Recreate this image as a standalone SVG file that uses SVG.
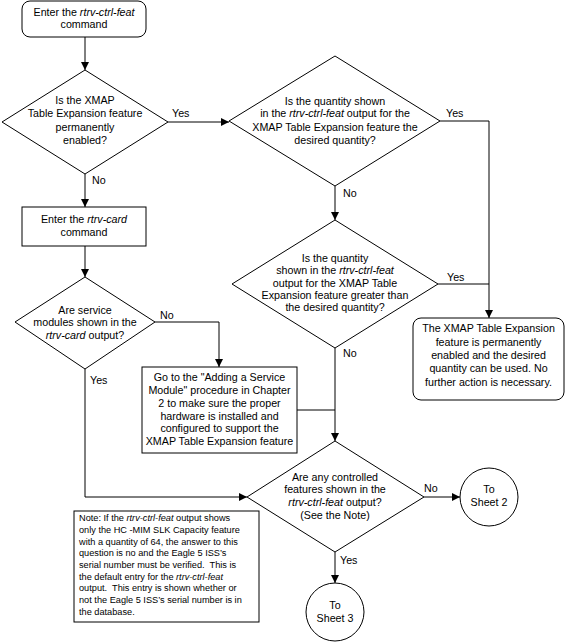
<svg xmlns="http://www.w3.org/2000/svg" width="565" height="642" viewBox="0 0 565 642">
<style>
.s{fill:#fff;stroke:#000;stroke-width:1}
.t{font-family:"Liberation Sans",Arial,sans-serif;font-size:10.7px;fill:#000;text-anchor:middle}
.l{font-family:"Liberation Sans",Arial,sans-serif;font-size:10.7px;fill:#000}
.n{font-family:"Liberation Sans",Arial,sans-serif;font-size:9.2px;fill:#000}
.i{font-style:italic}
.c{fill:none;stroke:#000;stroke-width:1}
</style>
<defs>
<marker id="a" markerWidth="8" markerHeight="8" refX="8" refY="4" orient="auto" markerUnits="userSpaceOnUse">
<path d="M0,0 L8,4 L0,8 Z" fill="#000"/>
</marker>
</defs>
<rect width="565" height="642" fill="#fff"/>
<g id="connectors">
<path class="c" d="M85,37 V70" marker-end="url(#a)"/>
<path class="c" d="M168,122 H229" marker-end="url(#a)"/>
<path class="c" d="M85,174 V207" marker-end="url(#a)"/>
<path class="c" d="M440,121 H489 V318" marker-end="url(#a)"/>
<path class="c" d="M438,284 H489"/>
<path class="c" d="M335,186 V220" marker-end="url(#a)"/>
<path class="c" d="M85,246 V277" marker-end="url(#a)"/>
<path class="c" d="M155,322 H219 V367" marker-end="url(#a)"/>
<path class="c" d="M335,348 V441" marker-end="url(#a)"/>
<path class="c" d="M297,410 H335"/>
<path class="c" d="M85,369 V497 H247" marker-end="url(#a)"/>
<path class="c" d="M424,497 H460" marker-end="url(#a)"/>
<path class="c" d="M335,552 V583" marker-end="url(#a)"/>
<text class="l" x="172" y="117">Yes</text>
<text class="l" x="92" y="184">No</text>
<text class="l" x="446" y="117">Yes</text>
<text class="l" x="343" y="197">No</text>
<text class="l" x="447" y="281">Yes</text>
<text class="l" x="343" y="357">No</text>
<text class="l" x="160" y="319">No</text>
<text class="l" x="90" y="384">Yes</text>
<text class="l" x="424" y="492">No</text>
<text class="l" x="340" y="564">Yes</text>
</g>
<g id="start">
<rect class="s" x="22" y="1" width="124" height="36" rx="8"/>
<text class="t" x="84" y="16">Enter the <tspan class="i">rtrv-ctrl-feat</tspan></text>
<text class="t" x="84" y="28">command</text>
</g>
<g id="d1">
<path class="s" d="M85,70 L168,122 L85,174 L2,122 Z"/>
<text class="t" x="85" y="104">Is the XMAP</text>
<text class="t" x="85" y="117">Table Expansion feature</text>
<text class="t" x="85" y="131">permanently</text>
<text class="t" x="85" y="144">enabled?</text>
</g>
<g id="d2">
<path class="s" d="M335,56 L440,121 L335,186 L229,121 Z"/>
<text class="t" x="335" y="105">Is the quantity shown</text>
<text class="t" x="335" y="117">in the <tspan class="i">rtrv-ctrl-feat</tspan> output for the</text>
<text class="t" x="335" y="131">XMAP Table Expansion feature the</text>
<text class="t" x="335" y="144">desired quantity?</text>
</g>
<g id="card">
<rect class="s" x="22" y="207" width="124" height="39"/>
<text class="t" x="84" y="223">Enter the <tspan class="i">rtrv-card</tspan></text>
<text class="t" x="84" y="236">command</text>
</g>
<g id="d3">
<path class="s" d="M335,220 L438,284 L335,348 L232,284 Z"/>
<text class="t" x="335" y="262">Is the quantity</text>
<text class="t" x="335" y="274">shown in the <tspan class="i">rtrv-ctrl-feat</tspan></text>
<text class="t" x="335" y="287">output for the XMAP Table</text>
<text class="t" x="335" y="299">Expansion feature greater than</text>
<text class="t" x="335" y="311">the desired quantity?</text>
</g>
<g id="done">
<rect class="s" x="413" y="318" width="151" height="82" rx="8"/>
<text class="t" x="488.5" y="332">The XMAP Table Expansion</text>
<text class="t" x="488.5" y="346">feature is permanently</text>
<text class="t" x="488.5" y="359">enabled and the desired</text>
<text class="t" x="488.5" y="372">quantity can be used. No</text>
<text class="t" x="488.5" y="386">further action is necessary.</text>
</g>
<g id="d5">
<path class="s" d="M85,277 L155,322 L85,369 L15,322 Z"/>
<text class="t" x="85" y="314">Are service</text>
<text class="t" x="85" y="326">modules shown in the</text>
<text class="t" x="85" y="339"><tspan class="i">rtrv-card</tspan> output?</text>
</g>
<g id="goto">
<rect class="s" x="142" y="367" width="155" height="86"/>
<text class="t" x="219.5" y="381">Go to the "Adding a Service</text>
<text class="t" x="219.5" y="394">Module" procedure in Chapter</text>
<text class="t" x="219.5" y="407">2 to make sure the proper</text>
<text class="t" x="219.5" y="420">hardware is installed and</text>
<text class="t" x="219.5" y="432">configured to support the</text>
<text class="t" x="219.5" y="445">XMAP Table Expansion feature</text>
</g>
<g id="d4">
<path class="s" d="M335,441 L424,497 L335,552 L247,497 Z"/>
<text class="t" x="335" y="481">Are any controlled</text>
<text class="t" x="335" y="493">features shown in the</text>
<text class="t" x="335" y="506"><tspan class="i">rtrv-ctrl-feat</tspan> output?</text>
<text class="t" x="335" y="519">(See the Note)</text>
</g>
<g id="sheet2">
<circle class="s" cx="489" cy="497" r="29"/>
<text class="t" x="489" y="493">To</text>
<text class="t" x="489" y="506">Sheet 2</text>
</g>
<g id="sheet3">
<circle class="s" cx="335" cy="612" r="29"/>
<text class="t" x="335" y="609">To</text>
<text class="t" x="335" y="622">Sheet 3</text>
</g>
<g id="note">
<rect class="s" x="74" y="511" width="185" height="111"/>
<text class="n" x="79" y="521" xml:space="preserve">Note: If the <tspan class="i">rtrv-ctrl-feat</tspan> output shows</text>
<text class="n" x="79" y="533">only the HC -MIM SLK Capacity feature</text>
<text class="n" x="79" y="545">with a quantity of 64, the answer to this</text>
<text class="n" x="79" y="556">question is no and the Eagle 5 ISS’s</text>
<text class="n" x="79" y="568" xml:space="preserve">serial number must be verified.  This is</text>
<text class="n" x="79" y="580" xml:space="preserve">the default entry for the <tspan class="i">rtrv-ctrl-feat</tspan></text>
<text class="n" x="79" y="591" xml:space="preserve">output.  This entry is shown whether or</text>
<text class="n" x="79" y="603">not the Eagle 5 ISS’s serial number is in</text>
<text class="n" x="79" y="615">the database.</text>
</g>
</svg>
